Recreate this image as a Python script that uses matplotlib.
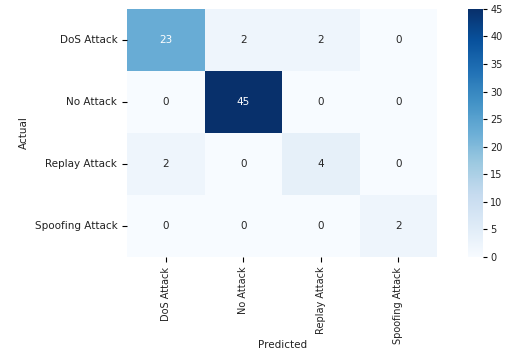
import matplotlib
matplotlib.use("Agg")
import matplotlib.pyplot as plt
import numpy as np
import seaborn as sns

labels = ["DoS Attack", "No Attack", "Replay Attack", "Spoofing Attack"]
row_dos = [23, 2, 2, 0]
row_none = [0, 45, 0, 0]
row_replay = [2, 0, 4, 0]
row_spoof = [0, 0, 0, 2]
cm = np.array([row_dos, row_none, row_replay, row_spoof])

fig = plt.figure(figsize=(5.06, 3.54), dpi=100)
ax = fig.add_axes([0.251, 0.274, 0.613, 0.701])
cax = fig.add_axes([0.925, 0.274, 0.03, 0.701])
sns.heatmap(cm, annot=True, fmt="d", cmap="Blues", ax=ax, cbar_ax=cax,
            xticklabels=labels, yticklabels=labels, vmin=0, vmax=45,
            annot_kws={"fontsize": 7.5})
ax.set_xlabel("Predicted", fontsize=7.5, color="#222222")
ax.xaxis.set_label_coords(0.5, -0.335)
ax.set_ylabel("Actual", fontsize=7.5, color="#222222")
ax.tick_params(axis="y", labelsize=7.5, labelcolor="#222222")
ax.tick_params(axis="x", labelsize=7, labelcolor="#222222")
plt.setp(ax.get_xticklabels(), rotation=90)
plt.setp(ax.get_yticklabels(), rotation=0)
cax.tick_params(labelsize=7, labelcolor="#222222", pad=2, length=3)
cax.set_yticks([0, 5, 10, 15, 20, 25, 30, 35, 40, 45])

fig.savefig("out.png", dpi=100)
